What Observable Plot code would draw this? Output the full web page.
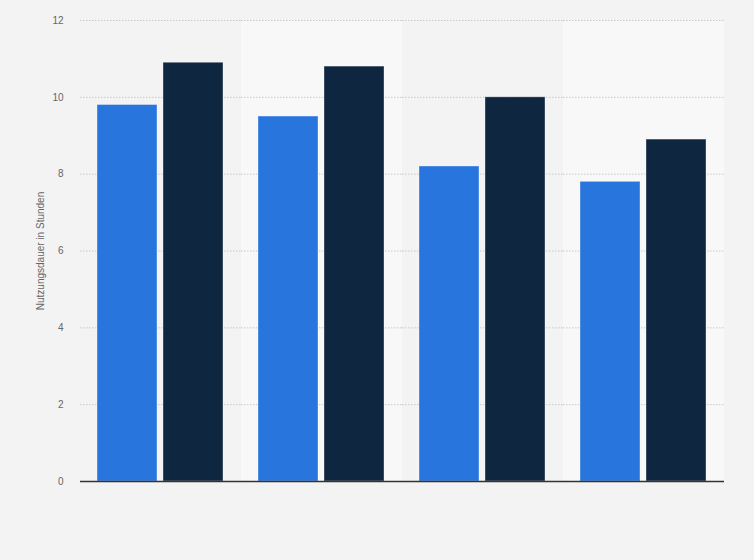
<!DOCTYPE html>
<html>
<head>
<meta charset="utf-8">
<script src="https://cdn.jsdelivr.net/npm/d3@7"></script>
<script src="https://cdn.jsdelivr.net/npm/@observablehq/plot@0.6"></script>
<style>
  html, body { margin: 0; padding: 0; background: #f3f3f3; }
  #chart svg { display: block; }
</style>
</head>
<body>
<div id="chart"></div>
<script>
const groups = ["G1", "G2", "G3", "G4"];
const series = ["A", "B"];
const valuesA = [9.8, 9.5, 8.2, 7.8];
const valuesB = [10.9, 10.8, 10.0, 8.9];
const yTicks = [0, 2, 4, 6, 8, 10, 12];
const yLabel = "Nutzungsdauer in Stunden";
const lightBands = ["G2", "G4"];

const data = [];
groups.forEach((g, i) => {
  data.push({group: g, series: "A", value: valuesA[i]});
  data.push({group: g, series: "B", value: valuesB[i]});
});
const bands = lightBands.map(g => ({group: g}));

const chart = Plot.plot({
  width: 754,
  height: 560,
  marginLeft: 79,
  marginRight: 29,
  marginTop: 20,
  marginBottom: 79,
  style: {background: "transparent", fontFamily: "'Liberation Sans', Arial, sans-serif", fontSize: "10px"},
  fx: {domain: groups, padding: 0, axis: null},
  x: {domain: series, paddingInner: 0.09, paddingOuter: 0.25, axis: null},
  y: {domain: [0, 12]},
  color: {domain: series, range: ["#2876dd", "#0f2641"]},
  marks: [
    Plot.barY(bands, {fx: "group", y1: 0, y2: 12, fill: "#f8f8f8"}),
    Plot.ruleY(yTicks.filter(d => d > 0), {stroke: "#c8c8c8", strokeDasharray: "1.5,1.5", strokeWidth: 1}),
    Plot.axisY({ticks: yTicks, tickSize: 0, tickPadding: 17, tickFormat: d => d, fill: "#666", fontSize: 10,
      label: yLabel, labelAnchor: "center", labelArrow: "none", labelOffset: 44}),
    Plot.barY(data, {fx: "group", x: "series", y: "value", fill: "series", stroke: "white", strokeOpacity: 0.35, strokeWidth: 1}),
    Plot.ruleY([0], {stroke: "#333", strokeWidth: 1.5})
  ]
});
document.getElementById("chart").appendChild(chart);
</script>
</body>
</html>
